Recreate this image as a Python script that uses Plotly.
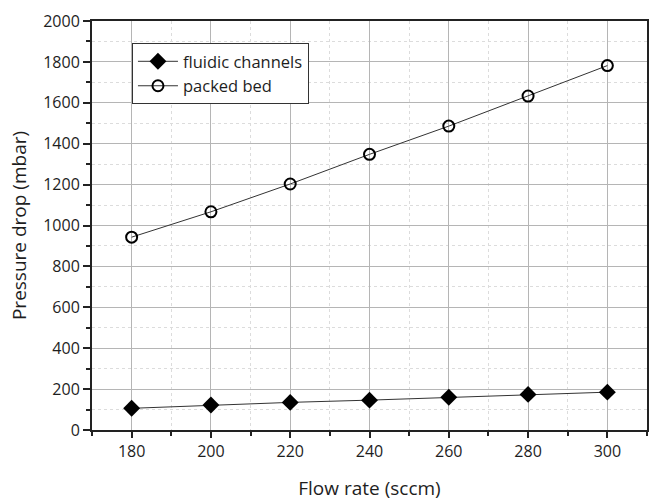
import plotly.graph_objects as go

flow_rate = [180, 200, 220, 240, 260, 280, 300]
fluidic_channels = [106, 122, 135, 146, 160, 174, 185]
packed_bed = [943, 1067, 1203, 1348, 1486, 1633, 1782]

x_ticks = [180, 200, 220, 240, 260, 280, 300]
y_ticks = [0, 200, 400, 600, 800, 1000, 1200, 1400, 1600, 1800, 2000]

FONT = "Open Sans"
TXT = "#1e1e1e"

fig = go.Figure()
fig.add_trace(go.Scatter(
    x=flow_rate, y=fluidic_channels, name="fluidic channels",
    mode="lines+markers",
    line=dict(color="#333333", width=1),
    marker=dict(symbol="diamond", size=13, color="black"),
))
fig.add_trace(go.Scatter(
    x=flow_rate, y=packed_bed, name="packed bed",
    mode="lines+markers",
    line=dict(color="#333333", width=1),
    marker=dict(symbol="circle-open", size=11, color="black",
                line=dict(width=2, color="black")),
))

fig.update_layout(
    width=650, height=501,
    margin=dict(l=92, r=1, t=21, b=70),
    paper_bgcolor="white", plot_bgcolor="white",
    font=dict(family=FONT, size=16, color=TXT),
    legend=dict(
        x=0.072, y=0.946, xanchor="left", yanchor="top",
        bgcolor="white", bordercolor="#333333", borderwidth=1,
        font=dict(family=FONT, size=16.5, color=TXT),
        itemwidth=40, tracegroupgap=0,
    ),
    showlegend=True,
)

fig.update_xaxes(
    range=[170, 310],
    tickvals=x_ticks, ticktext=[str(v) for v in x_ticks],
    ticks="outside", ticklen=6, tickwidth=1.5, tickcolor="#222222",
    showline=True, linecolor="#222222", linewidth=2, mirror=True,
    showgrid=True, gridcolor="#b5b5b5", gridwidth=1,
    zeroline=False,
    minor=dict(dtick=10, tick0=170, ticks="outside", ticklen=4, tickcolor="#222222",
               showgrid=True, gridcolor="#dcdcdc", griddash="dot", gridwidth=1),
    title=dict(text="Flow rate (sccm)", font=dict(family=FONT, size=19, color=TXT), standoff=24),
    tickfont=dict(family=FONT, size=16, color=TXT),
)
fig.update_yaxes(
    range=[0, 2000],
    tickvals=y_ticks, ticktext=[str(v) for v in y_ticks],
    ticks="outside", ticklen=7, tickwidth=1.5, tickcolor="#222222",
    showline=True, linecolor="#222222", linewidth=2, mirror=True,
    showgrid=True, gridcolor="#b5b5b5", gridwidth=1,
    zeroline=False,
    minor=dict(dtick=100, tick0=0, ticks="outside", ticklen=4, tickcolor="#222222",
               showgrid=True, gridcolor="#dcdcdc", griddash="dot", gridwidth=1),
    title=dict(text="Pressure drop (mbar)", font=dict(family=FONT, size=19, color=TXT), standoff=12),
    tickfont=dict(family=FONT, size=16, color=TXT),
)

fig.write_html("out.html")
